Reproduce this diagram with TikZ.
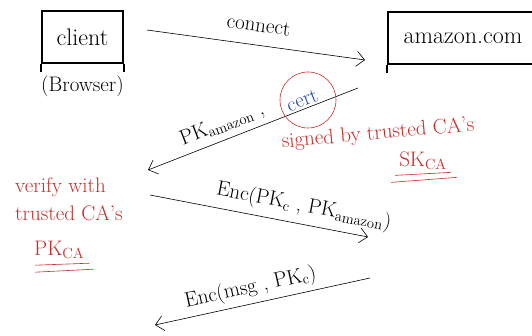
\documentclass[tikz,border=0pt]{standalone}
\usepackage{tikz}
\usetikzlibrary{arrows.meta,positioning,calc}
\definecolor{inkred}{RGB}{200,45,40}
\definecolor{inkblue}{RGB}{35,75,160}

\begin{document}
\begin{tikzpicture}[x = 1pt, y = -1pt,
  hand/.style = {font=\fontsize{21}{24}\selectfont, inner sep=1pt},
  note/.style = {font=\fontsize{21}{24}\selectfont, text=inkred, inner sep=1pt},
  party/.style = {draw, line width=2pt, minimum width=81pt, minimum height=52pt,
    font=\fontsize{24}{28}\selectfont},
  msg/.style = {-{Straight Barb[length=8pt,width=15pt]}, semithick}]
\clip (0,0) rectangle (532,336);

% the two parties
\node[party] (client) at (82.5, 37) {client};
\node[party, minimum width=150pt] (amazon) at (463, 38) {amazon.com};
\draw[line width=2pt] (client.south west) -- ++(0,8);
\draw[line width=2pt] (client.south east) -- ++(0,8);
\draw[line width=2pt] (amazon.south west) -- ++(0,8);
\node[hand, below=11pt of client] (browser) {(Browser)};

% message ends
\coordinate (c1) at (147,30);
\coordinate (s1) at (365,60);
\coordinate (s2) at (358,88);
\coordinate (c2) at (148,170);
\coordinate (c3) at (150,195);
\coordinate (s3) at (368,237);
\coordinate (s4) at (370,278);
\coordinate (c4) at (155,325);

\draw[msg] (c1) -- node[hand, above=12pt, sloped] (connect) {connect} (s1);
\draw[msg] (s2) -- node[hand, pos=0.25, above=1pt, sloped, text=inkblue] (cert) {cert}
  node[hand, pos=0.62, above=5pt, sloped] (pkamazon) {PK\textsubscript{amazon} ,} (c2);
\draw[msg] (c3) -- node[hand, pos=0.69, above=6pt, sloped] (enc1)
  {Enc(PK\textsubscript{c} , PK\textsubscript{amazon})} (s3);
\draw[msg] (s4) -- node[hand, pos=0.54, above=4pt, sloped] (enc2)
  {Enc(msg , PK\textsubscript{c})} (c4);

% certificate remarks
\node[draw=inkred, circle, semithick, minimum size=56pt] (ring) at (308,100) {};
\node[note, rotate=5] (signed) at (378,134) {signed by trusted CA's};
\node[note] (skca) at (423,161) {SK\textsubscript{CA}};
\draw[inkred, semithick] ($(skca.south west)+(-3,4)$) -- ($(skca.south east)+(3,1)$);
\draw[inkred, semithick] ($(skca.south west)+(-7,11)$) -- ($(skca.south east)+(9,6)$);

\node[note, anchor=west] (verify) at (14,187) {verify with};
\node[note, anchor=west] (trusted) at (14,213) {trusted CA's};
\node[note, anchor=west] (pkca) at (33,250) {PK\textsubscript{CA}};
\draw[inkred, semithick] ($(pkca.south west)+(2,5)$) -- ($(pkca.south east)+(4,3)$);
\draw[inkred, semithick] ($(pkca.south west)+(2,12)$) -- ($(pkca.south east)+(8,9)$);
\end{tikzpicture}
\end{document}
